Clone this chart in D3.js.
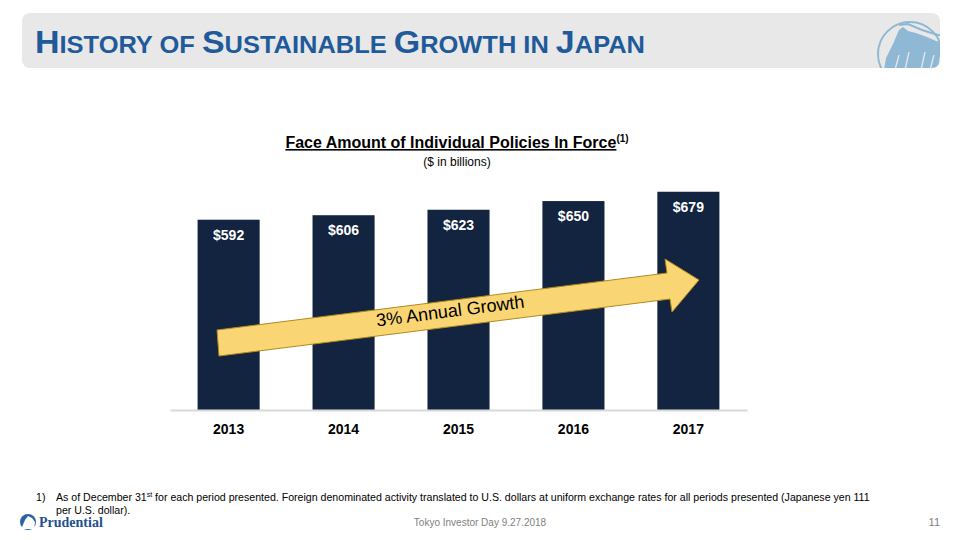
<!DOCTYPE html>
<html>
<head>
<meta charset="utf-8">
<script src="https://cdn.jsdelivr.net/npm/d3@7"></script>
<style>
  body { margin: 0; background: #fff; }
  svg { font-family: "Liberation Sans", Arial, sans-serif; }
</style>
</head>
<body>
<svg id="chart"></svg>
<script>
const width = 960;
const height = 540;

const years = ["2013", "2014", "2015", "2016", "2017"];
const faceAmounts = [592, 606, 623, 650, 679];
const growthLabel = "3% Annual Growth";

const svg = d3.select("#chart")
  .attr("width", width)
  .attr("height", height);

// header bar
svg.append("clipPath").attr("id", "hdr")
  .append("rect").attr("x", 22).attr("y", 13).attr("width", 918).attr("height", 55).attr("rx", 8);

svg.append("rect")
  .attr("x", 22).attr("y", 13).attr("width", 918).attr("height", 55).attr("rx", 8)
  .attr("fill", "#e8e8e8");

// rock logo, top right
const logo = svg.append("g").attr("clip-path", "url(#hdr)");
logo.append("circle")
  .attr("cx", 910).attr("cy", 54).attr("r", 32)
  .attr("fill", "none").attr("stroke", "#8fb8d4").attr("stroke-width", 2);
logo.append("path")
  .attr("d", "M884,70 L886,58 L893,44 L899,30 L903,27 L908,31 L916,33 L927,37 L936,41 L945,42 L945,70 Z")
  .attr("fill", "#8fb8d4");
logo.append("path")
  .attr("d", "M899,25 L908,24 L922,30 L938,35 L945,36")
  .attr("fill", "none").attr("stroke", "#8fb8d4").attr("stroke-width", 2);
logo.append("path")
  .attr("d", "M895,70 L899,55 M905,70 L909,52 M921,70 L925,52 M930,70 L934,55 M938,70 L941,54")
  .attr("stroke", "#e8e8e8").attr("stroke-width", 1.3);

// small-caps title
const title = svg.append("text")
  .attr("x", 35).attr("y", 53)
  .attr("fill", "#1f5a9a")
  .attr("font-weight", "bold")
  .attr("textLength", 610)
  .attr("lengthAdjust", "spacingAndGlyphs");
const words = ["History", "of", "Sustainable", "Growth", "in", "Japan"];
words.forEach((w, i) => {
  const sep = i < words.length - 1 ? " " : "";
  if (w === "of" || w === "in") {
    title.append("tspan").attr("font-size", 24).text(w.toUpperCase() + sep);
  } else {
    title.append("tspan").attr("font-size", 32).text(w[0]);
    title.append("tspan").attr("font-size", 24).text(w.slice(1).toUpperCase() + sep);
  }
});

// chart title
const ct = svg.append("text")
  .attr("x", 457).attr("y", 148)
  .attr("text-anchor", "middle")
  .attr("font-size", 16).attr("font-weight", "bold").attr("fill", "#000");
ct.append("tspan").attr("text-decoration", "underline").text("Face Amount of Individual Policies In Force");
ct.append("tspan").attr("font-size", 10).attr("dy", -6).text("(1)");

svg.append("text")
  .attr("x", 457).attr("y", 166)
  .attr("text-anchor", "middle")
  .attr("font-size", 12).attr("fill", "#000")
  .text("($ in billions)");

// scales
const x = d3.scaleBand()
  .domain(years)
  .range([170, 747])
  .paddingInner(0.46)
  .paddingOuter(0.24);

const y = d3.scaleLinear()
  .domain([0, 700])
  .range([410, 185]);

svg.selectAll(".bar")
  .data(years)
  .enter()
  .append("rect")
  .attr("class", "bar")
  .attr("x", d => x(d))
  .attr("y", (d, i) => y(faceAmounts[i]))
  .attr("width", x.bandwidth())
  .attr("height", (d, i) => y(0) - y(faceAmounts[i]))
  .attr("fill", "#12243f");

svg.selectAll(".val")
  .data(years)
  .enter()
  .append("text")
  .attr("x", d => x(d) + x.bandwidth() / 2)
  .attr("y", (d, i) => y(faceAmounts[i]) + 20)
  .attr("text-anchor", "middle")
  .attr("font-size", 14).attr("font-weight", "bold").attr("fill", "#fff")
  .text((d, i) => "$" + faceAmounts[i]);

// baseline + year labels
const xAxis = d3.axisBottom(x).tickSize(0).tickPadding(14);
const gx = svg.append("g")
  .attr("transform", `translate(0, ${y(0)})`)
  .call(xAxis);
gx.select(".domain").attr("stroke", "#d9d9d9").attr("stroke-width", 2);
gx.selectAll(".tick text")
  .attr("font-size", 14).attr("font-weight", "bold").attr("fill", "#000")
  .attr("font-family", "'Liberation Sans', Arial, sans-serif");

// growth arrow
svg.append("path")
  .attr("d", "M217,330 L667,273 L665,259 L699,280 L672,312 L670,299 L219,356 Z")
  .attr("fill", "#f9d673")
  .attr("stroke", "#b08a1e").attr("stroke-width", 1);

svg.append("text")
  .attr("transform", "translate(451,317) rotate(-7.3)")
  .attr("text-anchor", "middle")
  .attr("font-size", 18).attr("fill", "#000")
  .text(growthLabel);

// footnote
const fn = svg.append("g").attr("font-size", 10.6).attr("fill", "#000");
fn.append("text").attr("x", 36).attr("y", 501).text("1)");
const l1 = fn.append("text").attr("x", 56).attr("y", 501);
l1.append("tspan").text("As of December 31");
l1.append("tspan").attr("font-size", 7).attr("dy", -4).text("st");
l1.append("tspan").attr("dy", 4).text(" for each period presented. Foreign denominated activity translated to U.S. dollars at uniform exchange rates for all periods presented (Japanese yen 111");
fn.append("text").attr("x", 56).attr("y", 514).text("per U.S. dollar).");

svg.append("text")
  .attr("x", 480).attr("y", 526)
  .attr("text-anchor", "middle")
  .attr("font-size", 10).attr("fill", "#7f7f7f")
  .text("Tokyo Investor Day 9.27.2018");

svg.append("text")
  .attr("x", 940).attr("y", 526)
  .attr("text-anchor", "end")
  .attr("font-size", 11).attr("fill", "#7f7f7f")
  .text("11");

// prudential logo
svg.append("circle").attr("cx", 28).attr("cy", 522).attr("r", 8).attr("fill", "#2a62a8");
svg.append("path")
  .attr("d", "M22,527 L25,520 L28,516 L32,518 L35,522 L34,529 L22,529 Z")
  .attr("fill", "#fff");
svg.append("text")
  .attr("x", 39).attr("y", 527)
  .attr("font-family", "'Liberation Serif', 'DejaVu Serif', serif")
  .attr("font-size", 14).attr("font-weight", "bold").attr("fill", "#1f4f94")
  .text("Prudential");
</script>
</body>
</html>
